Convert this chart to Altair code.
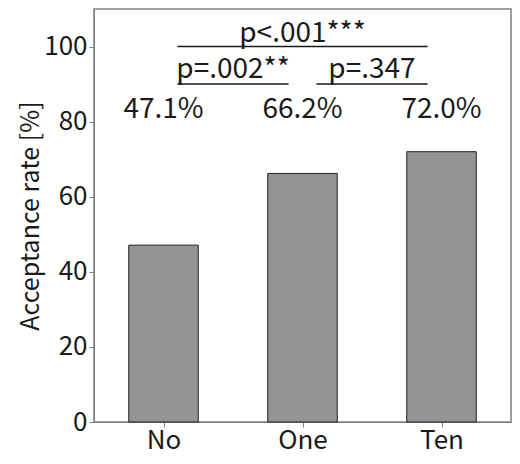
import altair as alt
import pandas as pd

categories = ["No", "One", "Ten"]
positions = [0, 1, 2]
rates = [47.1, 66.2, 72.0]
rate_labels = ["47.1%", "66.2%", "72.0%"]

sig_texts = ["p<.001***", "p=.002**", "p=.347"]
sig_x = [1.0, 0.5, 1.5]
sig_text_y = [101.3, 91.5, 91.5]
sig_x1 = [0.1, 0.1, 1.1]
sig_x2 = [1.9, 0.9, 1.9]
sig_line_y = [100, 90, 90]

FONT = "Noto Sans CJK JP"
TXT = "#1a1a1a"
GRAY = "#808080"

bars_df = pd.DataFrame({
    "cat": categories,
    "pos": positions,
    "rate": rates,
    "label": rate_labels,
})
bars_df["x1"] = bars_df["pos"] - 0.25
bars_df["x2"] = bars_df["pos"] + 0.25
bars_df["ly"] = 81

sig_df = pd.DataFrame({
    "text": sig_texts, "x": sig_x, "ty": sig_text_y,
    "x1": sig_x1, "x2": sig_x2, "ly": sig_line_y,
})

xscale = alt.Scale(domain=[-0.5, 2.5], nice=False, zero=False)
yscale = alt.Scale(domain=[0, 110], nice=False)

label_expr = "datum.value == 0 ? 'No' : datum.value == 1 ? 'One' : 'Ten'"

bars = alt.Chart(bars_df).mark_rect(
    color="#949494", stroke="#222222", strokeWidth=1
).encode(
    x=alt.X("x1:Q", scale=xscale, axis=alt.Axis(
        values=[0, 1, 2], labelExpr=label_expr, title=None, grid=False,
        labelFont=FONT, labelFontSize=26, labelColor=TXT,
        tickColor=GRAY, domainColor=GRAY, tickSize=5, labelPadding=0,
    )),
    x2="x2:Q",
    y=alt.Y("rate:Q", scale=yscale, axis=alt.Axis(
        values=[0, 20, 40, 60, 80, 100], title="Acceptance rate [%]", grid=False,
        labelFont=FONT, labelFontSize=26, labelColor=TXT,
        titleFont=FONT, titleFontSize=25, titleFontWeight="normal", titleColor=TXT,
        tickColor=GRAY, domainColor=GRAY, tickSize=5, labelPadding=2,
        titlePadding=0,
    )),
    y2=alt.datum(0),
)

bar_text = alt.Chart(bars_df).mark_text(
    font=FONT, fontSize=28, color=TXT, baseline="alphabetic", align="center"
).encode(
    x=alt.X("pos:Q", scale=xscale),
    y=alt.Y("ly:Q", scale=yscale),
    text="label:N",
)

sig_lines = alt.Chart(sig_df).mark_rule(color=TXT, strokeWidth=1.5).encode(
    x=alt.X("x1:Q", scale=xscale),
    x2="x2:Q",
    y=alt.Y("ly:Q", scale=yscale),
)

sig_text = alt.Chart(sig_df).mark_text(
    font=FONT, fontSize=28, color=TXT, baseline="alphabetic", align="center"
).encode(
    x=alt.X("x:Q", scale=xscale),
    y=alt.Y("ty:Q", scale=yscale),
    text="text:N",
)

chart = alt.layer(bars, bar_text, sig_lines, sig_text).properties(
    width=417, height=413,
    autosize=alt.AutoSizeParams(type="none"),
    padding={"left": 86, "top": 1, "right": 1, "bottom": 34},
).configure_view(
    stroke=GRAY, strokeWidth=1.5
)

chart.save("out.html", embed_options={"renderer": "svg", "actions": False})
